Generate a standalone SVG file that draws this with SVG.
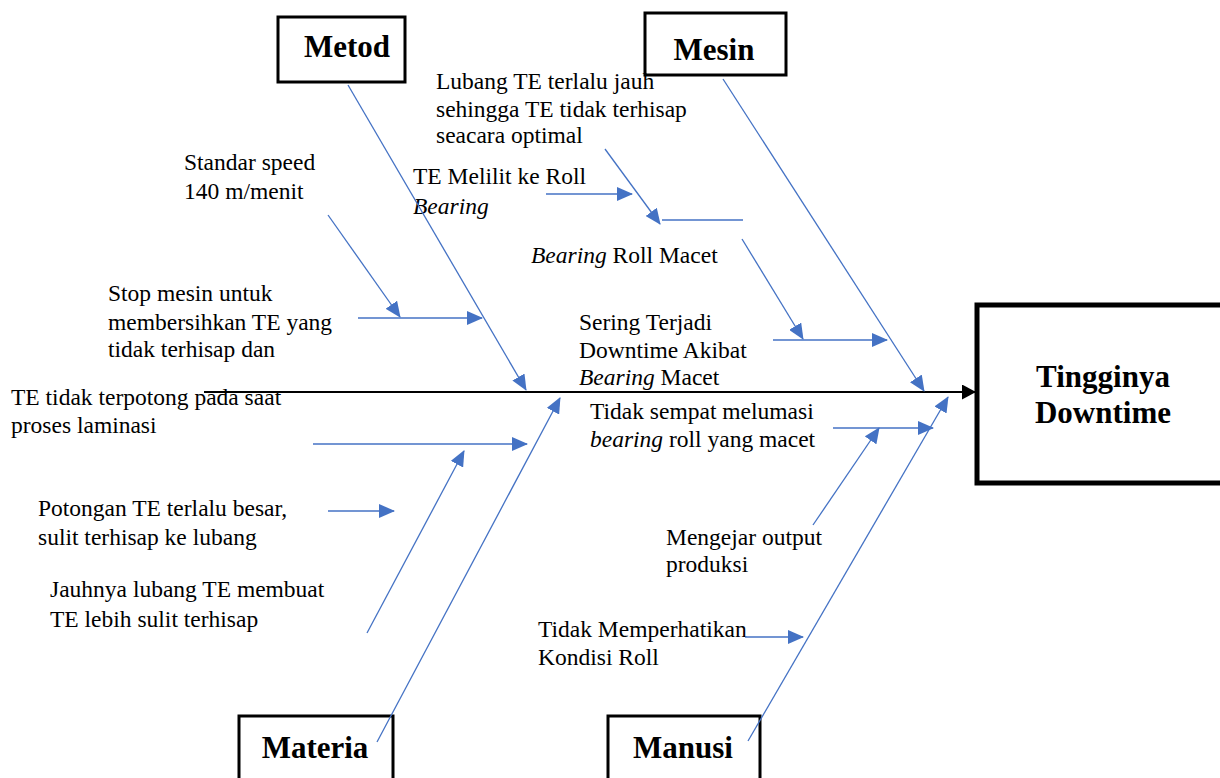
<svg xmlns="http://www.w3.org/2000/svg" width="1220" height="778" viewBox="0 0 1220 778">
<style>
.box{fill:#fff;stroke:#000;stroke-width:3}
.head{fill:#fff;stroke:#000;stroke-width:5}
.lbl{font-family:'Liberation Serif','Times New Roman',serif;font-weight:bold;font-size:31px;fill:#000;text-anchor:middle}
.t{font-family:'Liberation Serif','Times New Roman',serif;font-size:23.5px;fill:#000}
.b{stroke:#4472C4;stroke-width:1.3;fill:none}
.ba{stroke:#4472C4;stroke-width:1.3;fill:none;marker-end:url(#ah)}
</style>
<defs>
<marker id="ah" viewBox="0 0 16 14" refX="15" refY="7" markerWidth="16" markerHeight="14" markerUnits="userSpaceOnUse" orient="auto"><path d="M0,0 L16,7 L0,14 z" fill="#4472C4"/></marker>
<marker id="bh" viewBox="0 0 14 15" refX="13" refY="7.5" markerWidth="14" markerHeight="15" markerUnits="userSpaceOnUse" orient="auto"><path d="M0,0 L14,7.5 L0,15 z" fill="#000"/></marker>
</defs>
<rect width="1220" height="778" fill="#fff"/>
<g id="metod"><rect class="box" x="278" y="17" width="127" height="65"/><text class="lbl" x="347" y="57">Metod</text></g>
<g id="mesin"><rect class="box" x="645" y="13" width="141" height="62"/><text class="lbl" x="714" y="60">Mesin</text></g>
<g id="materia"><rect class="box" x="239" y="716" width="154" height="70"/><text class="lbl" x="315" y="758">Materia</text></g>
<g id="manusi"><rect class="box" x="608" y="716" width="152" height="70"/><text class="lbl" x="683" y="758">Manusi</text></g>
<g id="head"><rect class="head" x="977" y="305" width="260" height="178"/><text class="lbl" x="1103" y="387">Tingginya</text><text class="lbl" x="1103" y="423">Downtime</text></g>
<g id="causes">
<text class="t" x="436" y="89">Lubang TE terlalu jauh</text>
<text class="t" x="436" y="117">sehingga TE tidak terhisap</text>
<text class="t" x="436" y="143">seacara optimal</text>
<text class="t" x="184" y="170">Standar speed</text>
<text class="t" x="184" y="199">140 m/menit</text>
<text class="t" x="413" y="184">TE Melilit ke Roll</text>
<text class="t" x="413" y="214" font-style="italic">Bearing</text>
<text class="t" x="531" y="263"><tspan font-style="italic">Bearing</tspan> Roll Macet</text>
<text class="t" x="108" y="301">Stop mesin untuk</text>
<text class="t" x="108" y="330">membersihkan TE yang</text>
<text class="t" x="108" y="357">tidak terhisap dan</text>
<text class="t" x="579" y="330">Sering Terjadi</text>
<text class="t" x="579" y="358">Downtime Akibat</text>
<text class="t" x="579" y="385"><tspan font-style="italic">Bearing</tspan> Macet</text>
<text class="t" x="11" y="405">TE tidak terpotong pada saat</text>
<text class="t" x="11" y="433">proses laminasi</text>
<text class="t" x="590" y="419">Tidak sempat melumasi</text>
<text class="t" x="590" y="447"><tspan font-style="italic">bearing</tspan> roll yang macet</text>
<text class="t" x="38" y="516">Potongan TE terlalu besar,</text>
<text class="t" x="38" y="545">sulit terhisap ke lubang</text>
<text class="t" x="666" y="545">Mengejar output</text>
<text class="t" x="666" y="572">produksi</text>
<text class="t" x="50" y="597">Jauhnya lubang TE membuat</text>
<text class="t" x="50" y="627">TE lebih sulit terhisap</text>
<text class="t" x="538" y="637">Tidak Memperhatikan</text>
<text class="t" x="538" y="665">Kondisi Roll</text>
</g>
<g id="connectors">
<line x1="204" y1="392" x2="975" y2="392" stroke="#000" stroke-width="2.2" marker-end="url(#bh)"/>
<line class="ba" x1="348" y1="85" x2="526" y2="390"/>
<line class="ba" x1="723" y1="79" x2="924" y2="391"/>
<line class="ba" x1="377" y1="742" x2="560" y2="398"/>
<line class="ba" x1="748" y1="741" x2="948" y2="397"/>
<line class="ba" x1="358" y1="318" x2="482" y2="318"/>
<line class="ba" x1="328" y1="215" x2="400" y2="317"/>
<line class="ba" x1="546" y1="194" x2="632" y2="194"/>
<line class="ba" x1="605" y1="149" x2="660" y2="224"/>
<line class="b" x1="662" y1="220" x2="743" y2="220"/>
<line class="ba" x1="742" y1="239" x2="803" y2="339"/>
<line class="ba" x1="773" y1="340" x2="887" y2="340"/>
<line class="ba" x1="313" y1="444" x2="527" y2="444"/>
<line class="ba" x1="367" y1="633" x2="464" y2="451"/>
<line class="ba" x1="328" y1="511" x2="394" y2="511"/>
<line class="ba" x1="833" y1="428" x2="933" y2="428"/>
<line class="ba" x1="813" y1="525" x2="879" y2="428"/>
<line class="ba" x1="745" y1="637" x2="803" y2="637"/>
</g>
</svg>
